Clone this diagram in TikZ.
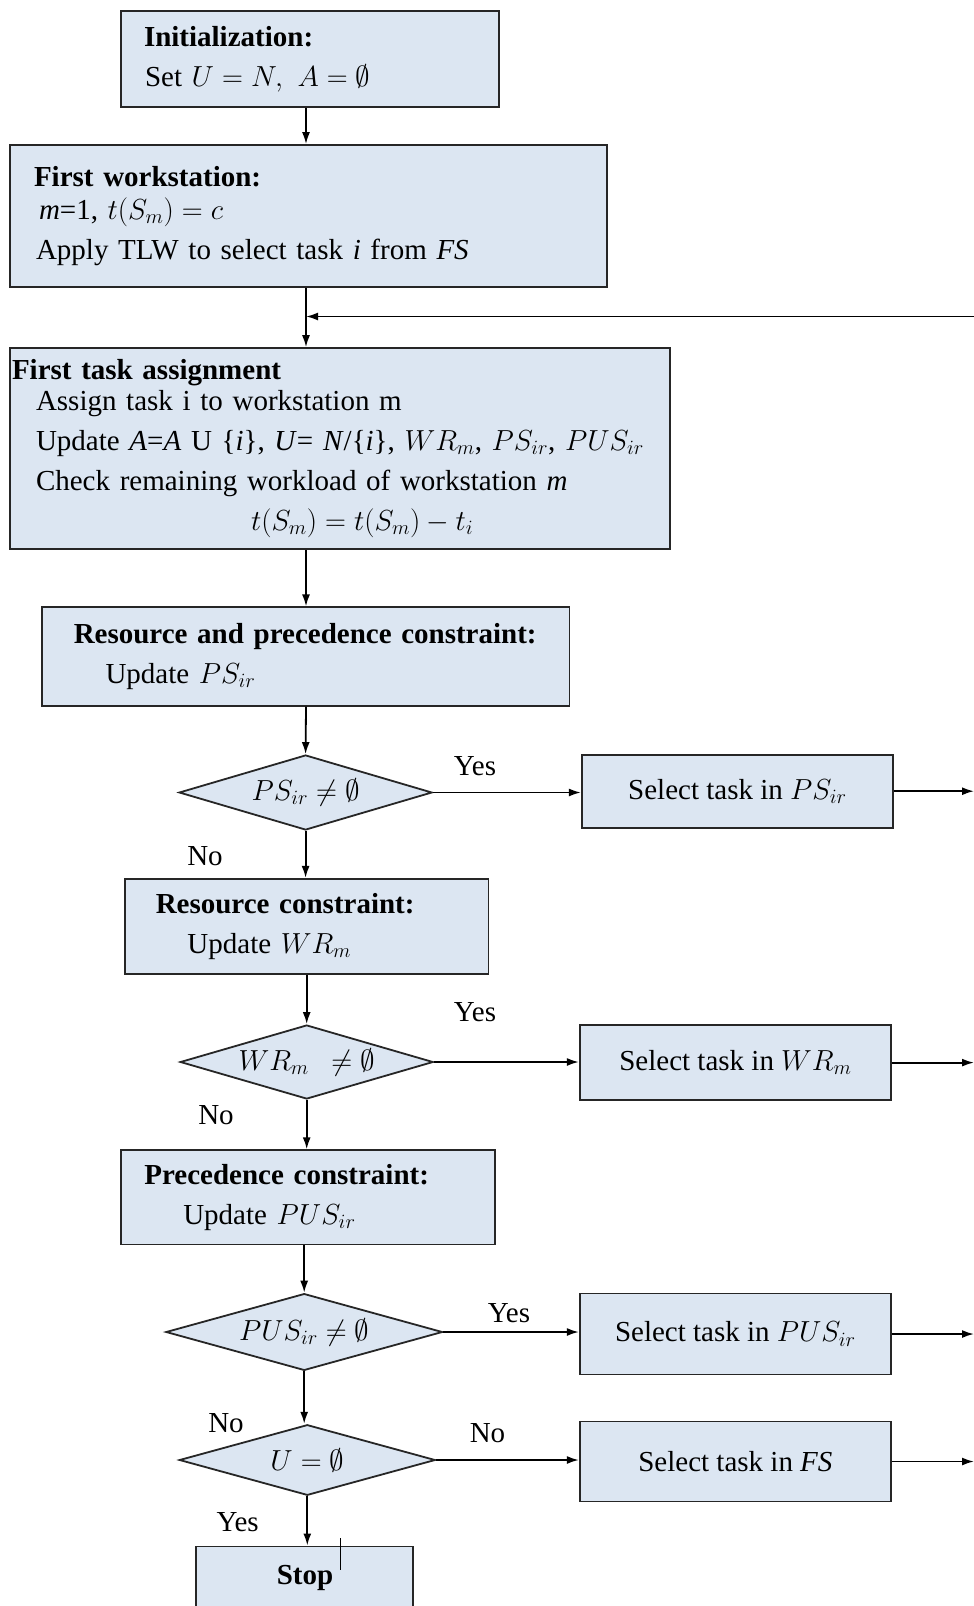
\RequirePackage{fix-cm}
\documentclass[tikz,border=0pt]{standalone}
\usepackage{fontspec}
\setmainfont{Liberation Serif}
\usetikzlibrary{shapes.geometric,arrows.meta}
\definecolor{boxfill}{HTML}{DCE6F2}
\begin{document}
\begin{tikzpicture}[x=1pt,y=-1pt,
  every node/.style={font=\fontsize{29}{40}\selectfont},
  box/.style={draw=black!85, line width=1.8pt, fill=boxfill, inner sep=0pt, rectangle},
  tbox/.style={box, align=left},
  cond/.style={draw=black!85, line width=1.8pt, fill=boxfill, diamond, aspect=3.4, inner sep=0pt},
  arr/.style={line width=1.8pt, draw=black, -{Latex[length=12pt,width=8pt]}},
  lbl/.style={inner sep=0pt},
]
\useasboundingbox (0,0) rectangle (974,1606);
\clip (0,0) rectangle (974,1606);
\coordinate (spine) at (306,0);
\coordinate (redge) at (974,0);

% boxes
\node[tbox, text width=378pt, minimum height=96pt] (init) at (310,59) {%
\hspace*{23pt}\textbf{Initialization:}\\
\hspace*{24pt}Set $U=N,\ A=\emptyset$};

\node[tbox, text width=597pt, minimum height=142pt] (fw) at (308.5,216) {%
\hspace*{24pt}\textbf{First workstation:}\\[-7pt]
\hspace*{29pt}\textit{m}=1, $t(S_m)=c$\\
\hspace*{26pt}Apply TLW to select task \textit{i} from \textit{FS}};

\node[tbox, text width=660pt, minimum height=201pt] (task) at (340,448.6) {%
\hspace*{2pt}\textbf{First task assignment}\\[-9pt]
\hspace*{26pt}Assign task i to workstation m\\
\hspace*{26pt}Update \textit{A}=\textit{A} U \{\textit{i}\}, \textit{U}= \textit{N}/\{\textit{i}\}, $WR_m$, $PS_{ir}$, $PUS_{ir}$\\
\hspace*{26pt}Check remaining workload of workstation \textit{m}\\
\hspace*{241pt}$t(S_m)=t(S_m)-t_i$};

\node[tbox, text width=527.5pt, minimum height=98.4pt] (rp) at (305.8,656.5) {%
\hspace*{31.7pt}\textbf{Resource and precedence constraint:}\\
\hspace*{63.5pt}Update $PS_{ir}$};

\node[cond, minimum width=253pt, minimum height=75pt] (d1) at (305.6,792.5) {$PS_{ir}\neq\emptyset$};
\node[box, minimum width=311.3pt, minimum height=72.8pt] (s1) at (737.4,791.2) {Select task in $PS_{ir}$};

\node[tbox, text width=363.5pt, minimum height=95.2pt] (rc) at (306.8,926.4) {%
\hspace*{30.7pt}\textbf{Resource constraint:}\\
\hspace*{62.4pt}Update $WR_m$};

\node[cond, minimum width=253pt, minimum height=74pt] (d2) at (306.7,1062) {$WR_m\ \ \neq\emptyset$};
\node[box, minimum width=311.3pt, minimum height=74.8pt] (s2) at (735.4,1062.6) {Select task in $WR_m$};

\node[tbox, text width=373.8pt, minimum height=94.2pt] (pc) at (307.8,1197.3) {%
\hspace*{23.5pt}\textbf{Precedence constraint:}\\
\hspace*{62.4pt}Update $PUS_{ir}$};

\node[cond, minimum width=276.6pt, minimum height=76.8pt] (d3) at (304.2,1332) {$PUS_{ir}\neq\emptyset$};
\node[box, minimum width=311.3pt, minimum height=80.9pt] (s3) at (735.4,1334) {Select task in $PUS_{ir}$};

\node[cond, minimum width=256pt, minimum height=70.6pt] (d4) at (307.3,1460) {$U=\emptyset$};
\node[box, minimum width=311.3pt, minimum height=80pt] (s4) at (735.4,1461.5) {Select task in \textit{FS}};

\node[box, minimum width=217pt, minimum height=80pt, anchor=north] (stop) at (304.2,1545.5) {};
\node[lbl] (stoplbl) at (305,1578) {\textbf{Stop}};
\draw[line width=0.8pt] (340,1538) -- (340,1570);

% labels
\node[lbl] (y1) at (475,766) {Yes};
\node[lbl] (n1) at (205,856) {No};
\node[lbl] (y2) at (475,1012) {Yes};
\node[lbl] (n2) at (216,1115) {No};
\node[lbl] (y3) at (509,1313) {Yes};
\node[lbl] (n3) at (226,1423.6) {No};
\node[lbl] (n4) at (487.5,1433) {No};
\node[lbl] (y4) at (237.6,1522) {Yes};

% connectors
\coordinate (fb) at (974,316.5);
\draw[arr] (init.south -| spine) -- (fw.north -| spine);
\draw[arr] (fw.south -| spine) -- (task.north -| spine);
\draw[arr] (fb) -- (fb -| spine);
\draw[arr] (task.south -| spine) -- (rp.north -| spine);
\draw[arr] (rp.south -| spine) -- (d1.north);
\draw[arr] (d1.south) -- (rc.north -| d1.south);
\draw[arr] (rc.south -| d2.north) -- (d2.north);
\draw[arr] (d2.south) -- (pc.north -| d2.south);
\draw[arr] (pc.south -| d3.north) -- (d3.north);
\draw[arr] (d3.south) -- (d3.south |- d4.north);
\draw[arr] (d4.south) -- (d4.south |- stop.north);

\draw[arr] (d1.east) -- (d1.east -| s1.west);
\draw[arr] (d2.east) -- (d2.east -| s2.west);
\draw[arr] (d3.east) -- (d3.east -| s3.west);
\draw[arr] (d4.east) -- (d4.east -| s4.west);
\draw[arr] (s1.east) -- (s1.east -| redge);
\draw[arr] (s2.east) -- (s2.east -| redge);
\draw[arr] (s3.east) -- (s3.east -| redge);
\draw[arr] (s4.east) -- (s4.east -| redge);
\end{tikzpicture}
\end{document}
